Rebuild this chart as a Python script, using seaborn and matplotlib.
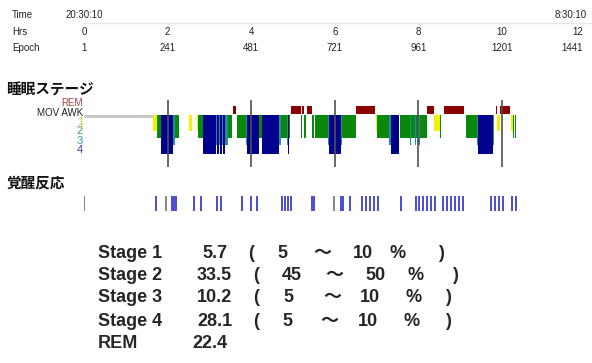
import numpy as np
import pandas as pd
import matplotlib
matplotlib.use("Agg")
import matplotlib.pyplot as plt
import seaborn as sns

# ---------------- data ----------------
start_time = "20:30:10"
end_time = "8:30:10"
hour_ticks = [0, 2, 4, 6, 8, 10, 12]
epoch_ticks = [1 + h * 120 for h in hour_ticks]

stage_levels = ["REM", "MOV AWK", "1", "2", "3", "4"]

# hypnogram segments (hours since start, stage)
seg_start = [0.00, 1.65, 1.75, 1.84, 2.13, 2.18, 2.51, 2.70, 2.73, 2.85, 3.16, 3.19, 3.23, 3.25,
             3.30, 3.32, 3.38, 3.45, 3.56, 3.66, 3.88, 3.90, 4.19, 4.26, 4.67, 4.71, 4.86, 4.88,
             4.90, 4.95, 5.19, 5.22, 5.26, 5.33, 5.45, 5.52, 5.84, 5.86, 6.15, 6.17, 6.51, 6.99,
             7.02, 7.30, 7.34, 7.56, 7.80, 7.82, 7.92, 7.94, 7.98, 8.03, 8.21, 8.31, 8.38, 8.52,
             8.61, 9.14, 9.40, 9.43, 9.78, 9.85, 9.87, 9.95, 10.22, 10.26, 10.31]
seg_end = [1.65, 1.75, 1.84, 2.13, 2.18, 2.27, 2.58, 2.73, 2.85, 3.16, 3.19, 3.23, 3.25, 3.30,
           3.32, 3.38, 3.45, 3.55, 3.63, 3.88, 3.90, 4.19, 4.26, 4.67, 4.71, 4.86, 4.88, 4.90,
           4.93, 5.19, 5.22, 5.26, 5.31, 5.45, 5.50, 5.84, 5.86, 6.15, 6.17, 6.51, 6.96, 7.02,
           7.30, 7.34, 7.54, 7.80, 7.82, 7.92, 7.94, 7.98, 8.03, 8.21, 8.29, 8.37, 8.52, 8.55,
           9.09, 9.40, 9.43, 9.78, 9.81, 9.87, 9.95, 10.19, 10.26, 10.28, 10.33]
seg_stage = ["W", "1", "2", "4", "3", "2", "1", "1", "2", "4", "3", "4", "3", "4",
             "3", "4", "3", "2", "R", "2", "3", "4", "2", "4", "3", "2", "3", "4",
             "2", "R", "2", "R", "2", "R", "2", "2", "3", "4", "3", "2", "R", "1",
             "2", "3", "4", "2", "3", "2", "3", "2", "3", "2", "R", "R", "1", "2",
             "R", "2", "3", "4", "3", "R", "1", "R", "1", "2", "2"]

# arousal events (hours)
arousal_times = [1.72, 2.11, 2.15, 2.19, 2.63, 2.80, 3.18, 3.28, 3.78, 4.00, 4.14,
                 4.74, 4.81, 4.88, 4.95, 5.45, 5.50, 6.15, 6.20, 6.36,
                 6.65, 6.75, 6.84, 6.94, 7.03, 7.58, 7.94, 8.01, 8.11, 8.21, 8.30, 8.40,
                 8.59, 8.68, 8.78, 8.88, 8.97, 9.07, 9.74, 9.83, 9.93, 10.02, 10.24, 10.33]
other_events = [0.00, 1.96, 5.98]

# summary table
sum_names = ["Stage 1", "Stage 2", "Stage 3", "Stage 4", "REM"]
sum_pct = ["5.7", "33.5", "10.2", "28.1", "22.4"]
norm_low = ["5", "45", "5", "5", None]
norm_high = ["10", "50", "10", "10", None]

# ---------------- style / layout ----------------
sns.set_theme(style="white")
plt.rcParams["font.family"] = ["Liberation Sans", "Noto Sans CJK JP", "DejaVu Sans"]

W, H = 592, 363
X0, PXH = 84.0, 41.8
def hx(px):
    return (px - X0) / PXH

fig = plt.figure(figsize=(W / 100, H / 100), dpi=100)
ax = fig.add_axes([0, 0, 1, 1])
ax.set_xlim(hx(0), hx(W))
ax.set_ylim(H, 0)
ax.axis("off")

# header
hdr_fs = 7
ax.hlines(23, hx(83), hx(W), color="#e6e6e6", lw=1)
for h in hour_ticks[1:-1]:
    ax.vlines(h, 23, 26, color="#e6e6e6", lw=0.8)
for lab, y in [("Time", 15), ("Hrs", 32), ("Epoch", 48)]:
    ax.text(hx(12), y, lab, fontsize=hdr_fs, ha="left", va="center", color="#222")
ax.text(0, 15, start_time, fontsize=hdr_fs, ha="center", va="center", color="#222")
ax.text(hx(587), 15, end_time, fontsize=hdr_fs, ha="right", va="center", color="#222")
for h, e in zip(hour_ticks, epoch_ticks):
    if h == hour_ticks[-1]:
        ax.text(hx(583), 32, str(h), fontsize=hdr_fs, ha="right", va="center", color="#222")
        ax.text(hx(583), 48, str(e), fontsize=hdr_fs, ha="right", va="center", color="#222")
    else:
        ax.text(h, 32, str(h), fontsize=hdr_fs, ha="center", va="center", color="#222")
        ax.text(h, 48, str(e), fontsize=hdr_fs, ha="center", va="center", color="#222")

# section titles
ax.text(hx(6), 90, "睡眠ステージ", fontsize=10.5, fontweight="bold", ha="left", va="center",
        family=["Noto Sans CJK JP"], color="#111")
ax.text(hx(6), 183, "覚醒反応", fontsize=10.5, fontweight="bold", ha="left", va="center",
        family=["Noto Sans CJK JP"], color="#111")

# stage labels
lab_y = [103, 112.5, 122, 131.5, 141, 150]
lab_col = ["#b23a3a", "#222222", "#c8c83c", "#3aa03a", "#3a9aaa", "#3a3ab0"]
lab_fs = [7, 7, 8, 8, 8, 8]
for lab, y, c, fs in zip(stage_levels, lab_y, lab_col, lab_fs):
    ax.text(hx(83), y, lab, fontsize=fs, ha="right", va="center", color=c)

# hypnogram
TOP = 115
bottom_px = {"1": 131, "2": 138, "3": 145, "4": 154}
col = {"1": "#f2f200", "2": "#0a880a", "3": "#1f8e9c", "4": "#00008e", "R": "#8b0000"}
seg = pd.DataFrame({"s": seg_start, "e": seg_end, "st": seg_stage})
seg["w"] = seg["e"] - seg["s"]
for st in ["1", "2", "3", "4"]:
    d = seg[seg["st"] == st]
    ax.bar(d["s"], bottom_px[st] - TOP, width=d["w"], bottom=TOP, align="edge",
           color=col[st], linewidth=0)
d = seg[seg["st"] == "R"]
ax.bar(d["s"], 8, width=d["w"], bottom=106, align="edge", color=col["R"], linewidth=0)
d = seg[seg["st"] == "W"]
ax.hlines([116] * len(d), d["s"], d["e"], color="#c8c8c8", lw=2.2)
ax.vlines(hour_ticks[1:-1], 100, 167, color="#505050", lw=1.2)

# summary table
row_y = [254, 276, 298, 321, 343]
cols = [
    [202, 248, 277, 313, 353, 390, 438],
    [197, 253, 282, 325, 365, 408, 452],
    [197, 253, 283, 323, 360, 405, 445],
    [197, 253, 282, 320, 358, 403, 445],
    [192],
]
tfs = 13
for i, y in enumerate(row_y):
    ax.text(hx(98), y, sum_names[i], fontsize=tfs, fontweight="bold", ha="left", va="center")
    c = cols[i]
    ax.text(hx(c[0]), y, sum_pct[i], fontsize=tfs, fontweight="bold", ha="left", va="center")
    if norm_low[i] is not None:
        toks = ["(", norm_low[i], "～", norm_high[i], "%", ")"]
        for t, xp in zip(toks, c[1:]):
            ax.text(hx(xp), y, t, fontsize=tfs, fontweight="bold", ha="left", va="center")

# arousals
ax_ar = fig.add_axes([X0 / W, 1 - 211 / H, 12 * PXH / W, 15 / H])
ax_ar.set_xlim(0, 12)
ax_ar.set_ylim(0, 1)
ax_ar.axis("off")
sns.rugplot(x=arousal_times, ax=ax_ar, height=1, color="#1c1cc8", linewidth=1.3, alpha=0.85)
sns.rugplot(x=other_events, ax=ax_ar, height=1, color="#606070", linewidth=1.2, alpha=0.9)

fig.savefig("out.png", dpi=100, facecolor="white")
